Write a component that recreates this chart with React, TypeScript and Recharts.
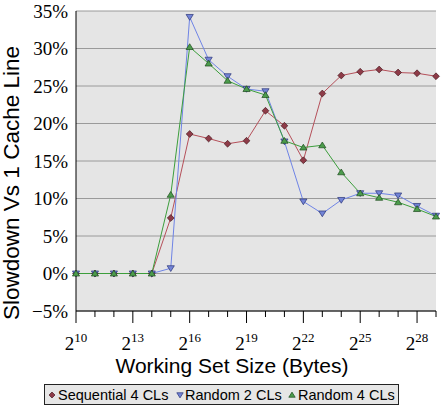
import React from 'react';
import { LineChart, Line, XAxis, YAxis, CartesianGrid } from 'recharts';

const exponents = [10, 11, 12, 13, 14, 15, 16, 17, 18, 19, 20, 21, 22, 23, 24, 25, 26, 27, 28, 29];
const sequential4 = [0, 0, 0, 0, 0, 7.4, 18.6, 18.0, 17.3, 17.7, 21.7, 19.7, 15.1, 24.0, 26.4, 26.9, 27.2, 26.8, 26.7, 26.3];
const random2 = [0, 0, 0, 0, 0, 0.7, 34.2, 28.5, 26.3, 24.6, 24.3, 17.6, 9.6, 8.0, 9.8, 10.7, 10.7, 10.4, 9.0, 7.7];
const random4 = [0, 0, 0, 0, 0, 10.5, 30.2, 28.0, 25.7, 24.6, 23.8, 17.7, 16.8, 17.1, 13.5, 10.7, 10.1, 9.5, 8.6, 7.6];
const yTicks = [-5, 0, 5, 10, 15, 20, 25, 30, 35];
const xMajorTicks = [10, 13, 16, 19, 22, 25, 28];

const seriesNames = ['Sequential 4 CLs', 'Random 2 CLs', 'Random 4 CLs'];

const data = exponents.map((e, i) => ({
  exp: e,
  seq: sequential4[i],
  r2: random2[i],
  r4: random4[i],
}));

const SEQ_LINE = '#b5505a';
const SEQ_FILL = '#8e3b48';
const SEQ_EDGE = '#4a1c22';
const R2_LINE = '#6f84e6';
const R2_FILL = '#7384d6';
const R2_EDGE = '#2a3478';
const R4_LINE = '#3c9e3c';
const R4_FILL = '#4c9c4c';
const R4_EDGE = '#1c4a1c';

const Diamond = ({ cx, cy, r = 3.4, fill, stroke }: any) => (
  <path d={`M${cx},${cy - r} L${cx + r},${cy} L${cx},${cy + r} L${cx - r},${cy} Z`} fill={fill} stroke={stroke} strokeWidth={0.7} />
);
const TriDown = ({ cx, cy, r = 3.6, fill, stroke }: any) => (
  <path d={`M${cx - r},${cy - r * 0.7} L${cx + r},${cy - r * 0.7} L${cx},${cy + r * 0.9} Z`} fill={fill} stroke={stroke} strokeWidth={0.7} />
);
const TriUp = ({ cx, cy, r = 3.6, fill, stroke }: any) => (
  <path d={`M${cx - r},${cy + r * 0.7} L${cx + r},${cy + r * 0.7} L${cx},${cy - r * 0.9} Z`} fill={fill} stroke={stroke} strokeWidth={0.7} />
);

const serif = '"Liberation Serif", "DejaVu Serif", serif';
const sans = '"Liberation Sans", Arial, sans-serif';

const XTick = (props: any) => {
  const { x, y, payload } = props;
  const v = payload.value;
  const major = xMajorTicks.includes(v);
  return (
    <g>
      <line x1={x} y1={y} x2={x} y2={y + (major ? 12 : 6)} stroke="#000" strokeWidth={1} />
      {major && (
        <text x={x} y={y + 39} textAnchor="middle" fontFamily={serif} fontSize={19} fill="#000">
          <tspan>2</tspan>
          <tspan dy={-8} fontSize={13}>{v}</tspan>
        </text>
      )}
    </g>
  );
};

const YTick = (props: any) => {
  const { x, y, payload } = props;
  const v = payload.value;
  const label = (v < 0 ? '\u2212' + Math.abs(v) : String(v)) + '%';
  return (
    <text x={x} y={y} dy="0.35em" textAnchor="end" fontFamily={serif} fontSize={19} fill="#000">
      {label}
    </text>
  );
};

const XLabel = (props: any) => {
  const vb = props.viewBox || {};
  return (
    <text x={vb.x + vb.width / 2 - 24} y={vb.y + 62} textAnchor="middle" fontFamily={sans} fontSize={21} fill="#000">
      Working Set Size (Bytes)
    </text>
  );
};

const YLabel = (props: any) => {
  const vb = props.viewBox || {};
  const cx = 19;
  const cy = vb.y + vb.height / 2 + 22;
  return (
    <text x={cx} y={cy} transform={`rotate(-90, ${cx}, ${cy})`} textAnchor="middle" fontFamily={sans} fontSize={22.5} fill="#000">
      Slowdown Vs 1 Cache Line
    </text>
  );
};

const LegendBox = () => (
  <div
    style={{
      position: 'absolute',
      left: 44,
      top: 384,
      width: 355,
      height: 21,
      boxSizing: 'border-box',
      border: '1px solid #222',
      background: '#e6e6e6',
    }}
  >
    <svg width={353} height={19} style={{ display: 'block' }}>
      <Diamond cx={7} cy={10} r={3} fill={SEQ_FILL} stroke={SEQ_EDGE} />
      <text x={13} y={15} fontFamily={sans} fontSize={14.5} fill="#000">{seriesNames[0]}</text>
      <TriDown cx={135} cy={10} r={3.2} fill={R2_FILL} stroke={R2_EDGE} />
      <text x={140} y={15} fontFamily={sans} fontSize={14.5} fill="#000">{seriesNames[1]}</text>
      <TriUp cx={247} cy={10} r={3.2} fill={R4_FILL} stroke={R4_EDGE} />
      <text x={253} y={15} fontFamily={sans} fontSize={14.5} fill="#000">{seriesNames[2]}</text>
    </svg>
  </div>
);

export default function App() {
  return (
    <div style={{ position: 'absolute', left: 0, top: 0, width: 444, height: 405, background: '#fff' }}>
      <LineChart width={444} height={405} data={data} margin={{ top: 11, right: 8, left: 0, bottom: 0 }}>
        <CartesianGrid vertical={false} stroke="#9a9a9a" fill="#e5e5e5" strokeWidth={1} />
        <XAxis
          dataKey="exp"
          type="number"
          domain={[10, 29]}
          ticks={exponents}
          interval={0}
          height={94}
          tickSize={0}
          tickMargin={0}
          tickLine={false}
          axisLine={{ stroke: '#000', strokeWidth: 1 }}
          tick={<XTick />}
          label={<XLabel />}
        />
        <YAxis
          type="number"
          domain={[-5, 35]}
          ticks={yTicks}
          interval={0}
          width={76}
          tickSize={0}
          tickMargin={8}
          tickLine={false}
          axisLine={{ stroke: '#000', strokeWidth: 1 }}
          tick={<YTick />}
          label={<YLabel />}
        />
        <Line
          dataKey="seq"
          stroke={SEQ_LINE}
          strokeWidth={1}
          isAnimationActive={false}
          dot={(p: any) => <Diamond key={`s${p.index}`} cx={p.cx} cy={p.cy} fill={SEQ_FILL} stroke={SEQ_EDGE} />}
          activeDot={false}
        />
        <Line
          dataKey="r2"
          stroke={R2_LINE}
          strokeWidth={1}
          isAnimationActive={false}
          dot={(p: any) => <TriDown key={`b${p.index}`} cx={p.cx} cy={p.cy} fill={R2_FILL} stroke={R2_EDGE} />}
          activeDot={false}
        />
        <Line
          dataKey="r4"
          stroke={R4_LINE}
          strokeWidth={1}
          isAnimationActive={false}
          dot={(p: any) => <TriUp key={`g${p.index}`} cx={p.cx} cy={p.cy} fill={R4_FILL} stroke={R4_EDGE} />}
          activeDot={false}
        />
      </LineChart>
      <LegendBox />
    </div>
  );
}
